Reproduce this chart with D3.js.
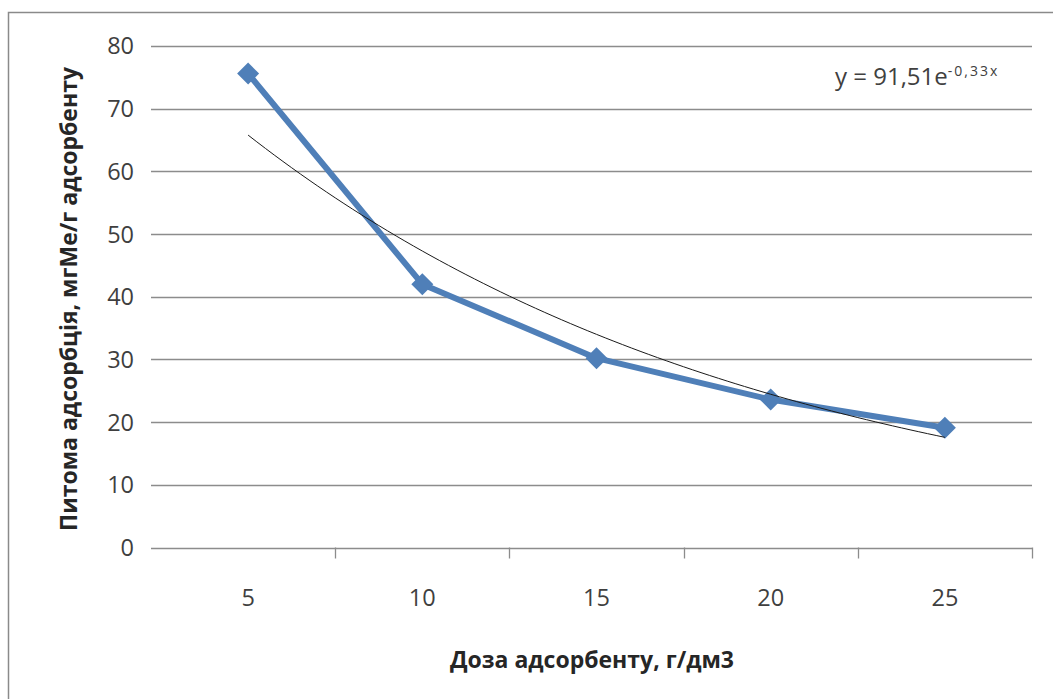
<!DOCTYPE html>
<html>
<head>
<meta charset="utf-8">
<script src="https://cdn.jsdelivr.net/npm/d3@7"></script>
<style>
  html, body { margin: 0; padding: 0; background: #fff; }
  svg { display: block; }
</style>
</head>
<body>
<svg id="chart" width="1053" height="699"></svg>
<script>
// Dose of adsorbent (g/dm3) and specific adsorption (mgMe/g)
const doses = ["5", "10", "15", "20", "25"];
const adsorption = [75.6, 42.0, 30.2, 23.6, 19.1];
const yTicks = [0, 10, 20, 30, 40, 50, 60, 70, 80];
// Exponential trendline y = a·e^(b·x), x = category index 1..5
const trendA = 91.51;
const trendB = -0.33;
const trendLabel = "y = 91,51e";
const trendExp = "-0,33x";

const svg = d3.select("#chart");
const W = 1053, H = 699;
const plot = { left: 161, right: 1032, top: 46, bottom: 547.5 };

// outer chart frame
svg.append("rect")
  .attr("x", 8.5).attr("y", 12.5)
  .attr("width", W + 20).attr("height", H + 20)
  .attr("fill", "#fff").attr("stroke", "#8a8a8a").attr("stroke-width", 1.5);

const x = d3.scaleBand().domain(doses).range([plot.left, plot.right]);
const y = d3.scaleLinear().domain([0, 80]).range([plot.bottom, plot.top]);
const xi = d3.scaleLinear().domain([1, doses.length])
  .range([x(doses[0]) + x.bandwidth() / 2, x(doses[doses.length - 1]) + x.bandwidth() / 2]);

const fontFam = "'Open Sans', 'Noto Sans', sans-serif";

// horizontal gridlines (with outward ticks to the left)
svg.append("g").selectAll("line").data(yTicks).join("line")
  .attr("x1", plot.left - 10).attr("x2", plot.right)
  .attr("y1", d => Math.round(y(d)) + 0.5).attr("y2", d => Math.round(y(d)) + 0.5)
  .attr("stroke", "#8c8c8c").attr("stroke-width", 1.3);

// value axis labels
svg.append("g").selectAll("text").data(yTicks).join("text")
  .attr("x", 134).attr("y", d => y(d))
  .attr("dy", "0.36em")
  .attr("text-anchor", "end")
  .attr("font-family", fontFam).attr("font-size", 23.5)
  .attr("fill", "#3f3f3f")
  .text(d => d);

// category axis ticks between categories
const xTickPos = doses.map(d => x(d) + x.bandwidth());
svg.append("g").selectAll("line").data(xTickPos).join("line")
  .attr("x1", d => Math.round(d) + 0.5).attr("x2", d => Math.round(d) + 0.5)
  .attr("y1", plot.bottom).attr("y2", plot.bottom + 11)
  .attr("stroke", "#8c8c8c").attr("stroke-width", 1.3);

// category labels
svg.append("g").selectAll("text").data(doses).join("text")
  .attr("x", d => x(d) + x.bandwidth() / 2).attr("y", 606)
  .attr("text-anchor", "middle")
  .attr("font-family", fontFam).attr("font-size", 23.5)
  .attr("fill", "#3f3f3f")
  .text(d => d);

// data series line
const pts = adsorption.map((v, i) => [x(doses[i]) + x.bandwidth() / 2, y(v)]);
svg.append("path")
  .attr("d", d3.line()(pts))
  .attr("fill", "none").attr("stroke", "#4f7fb8").attr("stroke-width", 6)
  .attr("stroke-linejoin", "round");

// diamond markers
svg.append("g").selectAll("path").data(pts).join("path")
  .attr("transform", d => `translate(${d[0]},${d[1]})`)
  .attr("d", "M0,-11L11,0L0,11L-11,0Z")
  .attr("fill", "#4f7fb8");

// exponential trendline
const trendX = d3.range(1, doses.length + 0.001, 0.05);
svg.append("path")
  .attr("d", d3.line().x(t => xi(t)).y(t => y(trendA * Math.exp(trendB * t)))(trendX))
  .attr("fill", "none").attr("stroke", "#1a1a1a").attr("stroke-width", 1);

// trendline equation
const eq = svg.append("text")
  .attr("x", 835).attr("y", 85)
  .attr("font-family", fontFam).attr("font-size", 24)
  .attr("fill", "#404040");
eq.append("tspan").text(trendLabel);
eq.append("tspan").attr("dy", -9).attr("font-size", 14)
  .attr("letter-spacing", 2).text(trendExp);

// axis titles
svg.append("text")
  .attr("x", 592).attr("y", 668)
  .attr("text-anchor", "middle")
  .attr("font-family", fontFam).attr("font-size", 23).attr("font-weight", "bold")
  .attr("fill", "#262626")
  .text("Доза адсорбенту, г/дм3");

svg.append("text")
  .attr("transform", "translate(77,299) rotate(-90)")
  .attr("text-anchor", "middle")
  .attr("font-family", fontFam).attr("font-size", 23).attr("font-weight", "bold")
  .attr("fill", "#262626")
  .text("Питома адсорбція, мгМе/г адсорбенту");
</script>
</body>
</html>
